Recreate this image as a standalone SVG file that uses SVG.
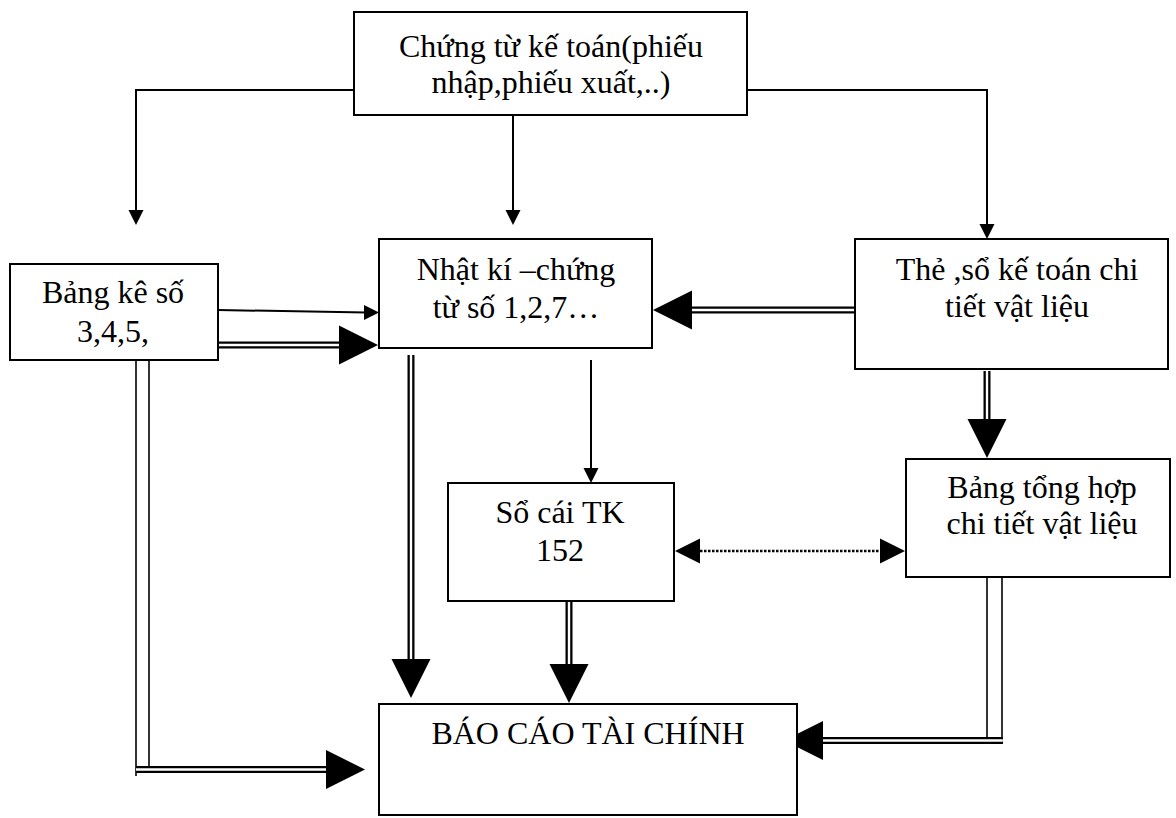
<svg xmlns="http://www.w3.org/2000/svg" xmlns:xlink="http://www.w3.org/1999/xlink" width="1176" height="818" viewBox="0 0 1176 818">
  <style>
    .box { fill: #fff; stroke: #000; stroke-width: 2; }
    .lbl { font-family: "Liberation Serif", "Times New Roman", serif; font-size: 32px; fill: #000; text-anchor: middle; }
    .ln { fill: none; stroke: #000; stroke-width: 2; }
    .thin { fill: none; stroke: #000; stroke-width: 1.6; }
    .dbl-o { fill: none; stroke: #000; stroke-width: 7; }
    .dbl-i { fill: none; stroke: #fff; stroke-width: 2.4; }
    .dot { fill: none; stroke: #000; stroke-width: 2.5; stroke-dasharray: 2.5 1.5; }
    .head { fill: #000; stroke: none; }
  </style>
  <defs>
    <!-- arrowheads, tip at the origin, pointing along +x -->
    <path id="hd-big" class="head" d="M0,0 L-39,-19.5 L-39,19.5 Z"/>
    <path id="hd-small" class="head" d="M0,0 L-15,-7.5 L-15,7.5 Z"/>
    <path id="hd-mid" class="head" d="M0,0 L-25,-12.5 L-25,12.5 Z"/>
  </defs>

  <rect width="1176" height="818" fill="#fff"/>

  <!-- connectors -->
  <g id="connectors">
    <!-- source documents fan out -->
    <path class="ln" d="M354,90 H136 V212"/>
    <use xlink:href="#hd-small" transform="translate(136,225) rotate(90)"/>
    <path class="ln" d="M513,115 V212"/>
    <use xlink:href="#hd-small" transform="translate(513,225) rotate(90)"/>
    <path class="ln" d="M747,90 H987 V226"/>
    <use xlink:href="#hd-small" transform="translate(987,239) rotate(90)"/>

    <!-- Bang ke -> Nhat ki (single) -->
    <path class="ln" d="M218,310 L366,312.5"/>
    <use xlink:href="#hd-small" transform="translate(379,312.5)"/>

    <!-- Bang ke -> Nhat ki (double) -->
    <path class="dbl-o" d="M218,345 H343"/>
    <path class="dbl-i" d="M218,345 H343"/>
    <use xlink:href="#hd-big" transform="translate(378,345)"/>

    <!-- The so -> Nhat ki (double) -->
    <path class="dbl-o" d="M855,310 H688"/>
    <path class="dbl-i" d="M855,310 H688"/>
    <use xlink:href="#hd-big" transform="translate(653,310) rotate(180)"/>

    <!-- The so -> Bang tong hop (double) -->
    <path class="dbl-o" d="M987,371 V422"/>
    <path class="dbl-i" d="M987,371 V422"/>
    <use xlink:href="#hd-big" transform="translate(987,458) rotate(90)"/>

    <!-- Nhat ki -> So cai (single) -->
    <path class="ln" d="M591,360 V470"/>
    <use xlink:href="#hd-small" transform="translate(591,483) rotate(90)"/>

    <!-- Nhat ki -> Bao cao (double) -->
    <path class="dbl-o" d="M411,355 V661"/>
    <path class="dbl-i" d="M411,355 V661"/>
    <use xlink:href="#hd-big" transform="translate(411,698) rotate(90)"/>

    <!-- So cai -> Bao cao (double) -->
    <path class="dbl-o" d="M569,602 V667"/>
    <path class="dbl-i" d="M569,602 V667"/>
    <use xlink:href="#hd-big" transform="translate(569,703) rotate(90)"/>

    <!-- So cai <-> Bang tong hop (dotted) -->
    <path class="dot" d="M700,551 H880"/>
    <use xlink:href="#hd-mid" transform="translate(675,551) rotate(180)"/>
    <use xlink:href="#hd-mid" transform="translate(905,551)"/>

    <!-- Bang ke -> Bao cao (two uprights, double run) -->
    <path class="thin" d="M136,360 V776"/>
    <path class="thin" d="M149,354 V770"/>
    <path class="dbl-o" d="M136,769.5 H330"/>
    <path class="dbl-i" d="M136,769.5 H330"/>
    <use xlink:href="#hd-big" transform="translate(365,769.5)"/>

    <!-- Bang tong hop -> Bao cao (two uprights, double run) -->
    <path class="thin" d="M987,577 V742"/>
    <path class="thin" d="M1002,577 V744"/>
    <path class="dbl-o" d="M1002.8,740.5 H820"/>
    <path class="dbl-i" d="M1002.8,740.5 H820"/>
    <use xlink:href="#hd-big" transform="translate(784,740.5) rotate(180)"/>
  </g>

  <!-- nodes -->
  <g id="chung-tu">
    <rect class="box" x="354" y="12" width="393" height="103"/>
    <text class="lbl" x="551" y="57">Chứng từ kế toán(phiếu</text>
    <text class="lbl" x="551" y="93">nhập,phiếu xuất,..)</text>
  </g>

  <g id="bang-ke">
    <rect class="box" x="10" y="264" width="208" height="96"/>
    <text class="lbl" x="113" y="303">Bảng kê số</text>
    <text class="lbl" x="113" y="342">3,4,5,</text>
  </g>

  <g id="nhat-ki">
    <rect class="box" x="379" y="239" width="273" height="109"/>
    <text class="lbl" x="516" y="280">Nhật kí –chứng</text>
    <text class="lbl" x="516" y="318">từ số 1,2,7…</text>
  </g>

  <g id="the-so">
    <rect class="box" x="855" y="239" width="313" height="130"/>
    <text class="lbl" x="1017" y="280">Thẻ ,sổ kế toán chi</text>
    <text class="lbl" x="1017" y="317">tiết vật liệu</text>
  </g>

  <g id="so-cai">
    <rect class="box" x="448" y="483" width="226" height="118"/>
    <text class="lbl" x="560" y="523">Sổ cái TK</text>
    <text class="lbl" x="560" y="561">152</text>
  </g>

  <g id="bang-tong-hop">
    <rect class="box" x="906" y="459" width="264" height="118"/>
    <text class="lbl" x="1042" y="498">Bảng tổng hợp</text>
    <text class="lbl" x="1042" y="534">chi tiết vật liệu</text>
  </g>

  <g id="bao-cao">
    <rect class="box" x="379" y="704" width="418" height="111"/>
    <text class="lbl" x="588" y="744">BÁO CÁO TÀI CHÍNH</text>
  </g>
</svg>
